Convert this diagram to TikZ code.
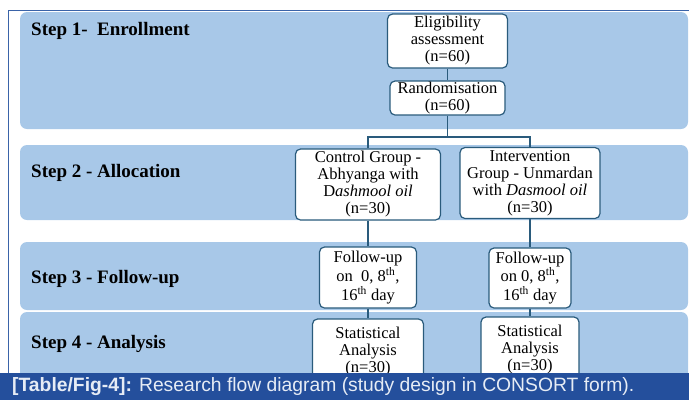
\documentclass[tikz,border=0pt]{standalone}
\usepackage{fontspec}
\setmainfont{Liberation Serif}
\newfontfamily\capfont{Liberation Sans}
\definecolor{bandblue}{HTML}{A8C8E8}
\definecolor{boxline}{HTML}{2A5B7C}
\definecolor{capblue}{HTML}{244F9C}
\definecolor{frameblue}{HTML}{3A63A8}
\definecolor{captext}{HTML}{E6ECF5}
\tikzset{
  band/.style={fill=bandblue, rounded corners=7pt},
  box/.style={draw=boxline, line width=1.2pt, fill=white, rounded corners=5pt, align=center, inner sep=1pt, font=\fontsize{16.5}{17}\selectfont},
  steplabel/.style={anchor=base west, inner sep=0pt, font=\fontsize{19}{21}\selectfont\bfseries},
  link/.style={draw=boxline, line width=1.2pt}
}
\begin{document}
\begin{tikzpicture}[x=1pt,y=-1pt]
\useasboundingbox (0,0) rectangle (689,400);
\draw [frameblue, line width=0.8pt] (8,373) -- (8,10) -- (689,10);
\fill [band] (20,12) rectangle (688,129);
\fill [band] (20,145) rectangle (688,220);
\fill [band] (20,242) rectangle (688,310);
\fill [band] (20,312) rectangle (688,390);
\node (s1) at (31,35) [steplabel] {Step 1-\ \ Enrollment};
\node (s2) at (31,177) [steplabel] {Step 2 - Allocation};
\node (s3) at (31,283) [steplabel] {Step 3 - Follow-up};
\node (s4) at (31,348) [steplabel] {Step 4 - Analysis};
\node (elig) at (447.5,41) [box, minimum width=120pt, minimum height=54pt] {Eligibility\\assessment\\(n=60)};
\node (rand) at (447.5,98) [box, minimum width=115pt, minimum height=34pt] {Randomisation\\(n=60)};
\coordinate (split) at (447.5,137);
\node (ctrl) at (368,184.5) [box, minimum width=145pt, minimum height=71pt] {Control Group -\\Abhyanga with\\D\textit{ashmool oil}\\(n=30)};
\node (intv) at (530,183) [box, minimum width=140pt, minimum height=71pt] {Intervention\\Group - Unmardan\\with \textit{Dasmool oil}\\(n=30)};
\node (fol1) at (368,277.5) [box, minimum width=97pt, minimum height=61pt] {Follow-up\\on\ \ 0, 8\textsuperscript{th},\\[2pt]16\textsuperscript{th} day};
\node (fol2) at (530,278) [box, minimum width=82pt, minimum height=60pt] {Follow-up\\on 0, 8\textsuperscript{th},\\[2pt]16\textsuperscript{th} day};
\node (stat1) at (368,352) [box, minimum width=111pt, minimum height=66pt] {Statistical\\Analysis\\(n=30)};
\node (stat2) at (530,350) [box, minimum width=98pt, minimum height=66pt] {Statistical\\Analysis\\(n=30)};
\draw [link] (elig) -- (rand);
\draw [link] (rand) -- (split);
\draw [link] (ctrl.north) |- (split) -| (intv.north);
\draw [link] (ctrl) -- (fol1);
\draw [link] (intv) -- (fol2);
\draw [link] (fol1) -- (stat1);
\draw [link] (fol2) -- (stat2);
\fill [capblue] (0,373) rectangle (689,400);
\node (cap) at (12,387) [anchor=west, inner sep=0pt, text=captext, font=\capfont\fontsize{19.3}{21}\selectfont] {\textbf{[Table/Fig-4]:} Research flow diagram (study design in CONSORT form).};
\end{tikzpicture}
\end{document}
